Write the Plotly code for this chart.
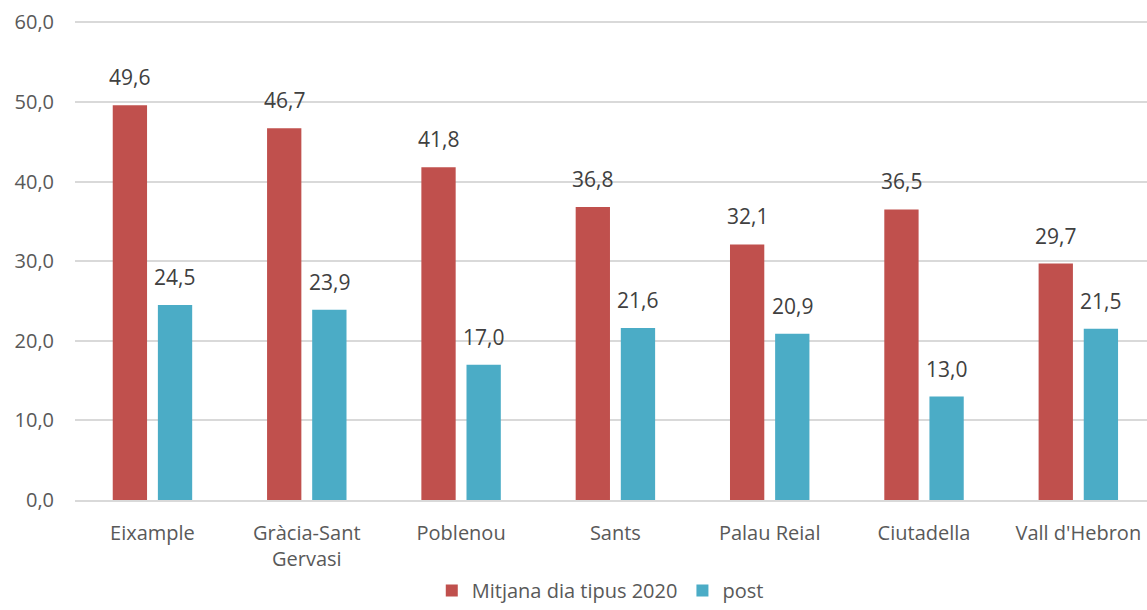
import plotly.graph_objects as go

categories = ["Eixample", "Gràcia-Sant<br>Gervasi", "Poblenou", "Sants", "Palau Reial", "Ciutadella", "Vall d'Hebron"]
mitjana = [49.6, 46.7, 41.8, 36.8, 32.1, 36.5, 29.7]
post = [24.5, 23.9, 17.0, 21.6, 20.9, 13.0, 21.5]
series_names = ["Mitjana dia tipus 2020", "post"]
colors = ["#C0504D", "#4BACC6"]
y_ticks = [0, 10, 20, 30, 40, 50, 60]

def fmt(v):
    return f"{v:.1f}".replace(".", ",")

FONT = "Open Sans"
SIZE = 20
fig = go.Figure()
for name, vals, col in zip(series_names, [mitjana, post], colors):
    fig.add_trace(go.Bar(x=categories, y=vals, name=name, marker=dict(color=col, line=dict(width=0))))

# data labels
for vals, shift in [(mitjana, -22.5), (post, 22.5)]:
    for c, v in zip(categories, vals):
        fig.add_annotation(x=c, y=v, text=fmt(v), showarrow=False, xshift=shift, yshift=28,
                           font=dict(family=FONT, size=21, color="#404040"))

fig.update_layout(
    width=1147, height=610,
    margin=dict(l=75, r=0, t=20, b=110, autoexpand=False),
    plot_bgcolor="white", paper_bgcolor="white",
    barmode="group", bargap=0.415, bargroupgap=0.24,
    font=dict(family=FONT, size=SIZE, color="#595959"),
    legend=dict(orientation="h", x=0.49, xanchor="center", y=-0.148, yanchor="top",
                font=dict(family=FONT, size=20, color="#595959"), itemwidth=30),
    xaxis=dict(showgrid=False, showline=True, linecolor="#D9D9D9", linewidth=1.5,
               tickfont=dict(family=FONT, size=SIZE, color="#595959"), ticks="",
               range=[-0.502, 6.445], ticklabelstandoff=14),
    yaxis=dict(range=[0, 60.3], tickvals=y_ticks, ticktext=[fmt(t) for t in y_ticks],
               showgrid=True, gridcolor="#D9D9D9", gridwidth=1.5, zeroline=False,
               tickfont=dict(family=FONT, size=SIZE, color="#595959"), ticks="",
               ticklabelstandoff=20),
)
fig.write_html("out.html", post_script="document.body.style.margin='0';",
               config={"displayModeBar": False})
